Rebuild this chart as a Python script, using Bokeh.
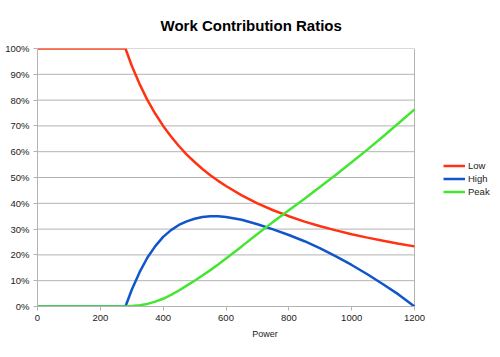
from bokeh.plotting import figure
from bokeh.models import (Range1d, NumeralTickFormatter, FixedTicker, Legend, LegendItem, Title)
from bokeh.embed import file_html
from bokeh.resources import INLINE

# Data
power = [0, 200, 280, 300, 325, 350, 375, 400, 425, 450, 475, 500, 525, 550, 575,
         600, 650, 700, 750, 800, 850, 900, 950, 1000, 1050, 1100, 1150, 1200]
low = [1.0, 1.0, 1.0, 0.933, 0.862, 0.800, 0.747, 0.700, 0.659, 0.622, 0.589,
       0.560, 0.533, 0.509, 0.487, 0.467, 0.431, 0.400, 0.373, 0.350, 0.329,
       0.311, 0.295, 0.280, 0.267, 0.255, 0.243, 0.233]
high = [0.0, 0.0, 0.0, 0.065, 0.133, 0.190, 0.234, 0.270, 0.296, 0.316, 0.330,
        0.340, 0.347, 0.350, 0.350, 0.347, 0.336, 0.319, 0.299, 0.277, 0.253,
        0.225, 0.194, 0.161, 0.125, 0.086, 0.046, 0.0]
peak = [0.0, 0.0, 0.0, 0.002, 0.005, 0.010, 0.019, 0.030, 0.045, 0.062, 0.081,
        0.100, 0.120, 0.141, 0.163, 0.186, 0.233, 0.281, 0.328, 0.373, 0.418,
        0.464, 0.511, 0.559, 0.608, 0.659, 0.711, 0.764]
series_names = ["Low", "High", "Peak"]
x_ticks = [0, 200, 400, 600, 800, 1000, 1200]
y_ticks = [0.0, 0.1, 0.2, 0.3, 0.4, 0.5, 0.6, 0.7, 0.8, 0.9, 1.0]

colors = ["#ff3311", "#1155cc", "#44e633"]
FONT = "Liberation Sans"
GRID = "#b3b3b3"

W, H = 492, 341
LEFT, PLOT_RIGHT, TOP, BOTTOM = 37, 414, 48, 35
x_min, x_max = x_ticks[0], x_ticks[-1]
# frame extends to the right edge so the legend (outside the plot box) is not clipped
x_end = x_max * (W - LEFT) / (PLOT_RIGHT - LEFT)

p = figure(width=W, height=H, output_backend="svg", toolbar_location=None,
           x_range=Range1d(x_min, x_end), y_range=Range1d(0, 1),
           min_border_left=LEFT, min_border_right=0, min_border_top=TOP,
           min_border_bottom=BOTTOM)
p.title = Title(text="Work Contribution Ratios", align="left", offset=123,
                text_font=FONT, text_font_size="15px", text_font_style="bold",
                text_color="#000000", standoff=29)
p.background_fill_color = "white"
p.border_fill_color = "white"
p.outline_line_color = None

p.xaxis.ticker = FixedTicker(ticks=x_ticks)
p.yaxis.ticker = FixedTicker(ticks=y_ticks)
p.yaxis.formatter = NumeralTickFormatter(format="0%")
p.xaxis.bounds = (x_min, x_max)
for ax in (p.xaxis[0], p.yaxis[0]):
    ax.axis_line_color = GRID
    ax.major_tick_line_color = GRID
    ax.major_tick_out = 4
    ax.major_tick_in = 0
    ax.minor_tick_line_color = None
    ax.major_label_text_font = FONT
    ax.major_label_text_font_size = "9.5px"
    ax.major_label_text_color = "#222222"
p.xaxis.major_label_standoff = 4
p.yaxis.major_label_standoff = 4
p.xaxis.axis_label = "Power"
p.xaxis.axis_label_text_font = FONT
p.xaxis.axis_label_text_font_size = "9px"
p.xaxis.axis_label_text_font_style = "normal"
p.xaxis.axis_label_text_color = "#222222"
p.xaxis.axis_label_standoff = 5

p.xgrid.grid_line_color = None
p.ygrid.grid_line_color = None

# horizontal gridlines limited to the plot box, and the right border of the box
p.segment(x0=[x_min] * len(y_ticks), x1=[x_max] * len(y_ticks), y0=y_ticks, y1=y_ticks,
          line_color=GRID, line_width=1)
p.segment(x0=[x_max], x1=[x_max], y0=[y_ticks[0]], y1=[y_ticks[-1]],
          line_color=GRID, line_width=1)

renderers = []
for ys, c in zip([low, high, peak], colors):
    r = p.line(power, ys, line_color=c, line_width=2.5)
    renderers.append(r)

legend = Legend(items=[LegendItem(label=n, renderers=[r]) for n, r in zip(series_names, renderers)],
                location=(406, 108), label_text_font=FONT, label_text_font_size="9.5px",
                label_text_color="#222222", glyph_width=22, glyph_height=13,
                label_height=13, spacing=0, padding=0, margin=0, label_standoff=3,
                background_fill_alpha=0, border_line_color=None)
p.add_layout(legend, "center")

open("out.html", "w").write(file_html(p, INLINE))
